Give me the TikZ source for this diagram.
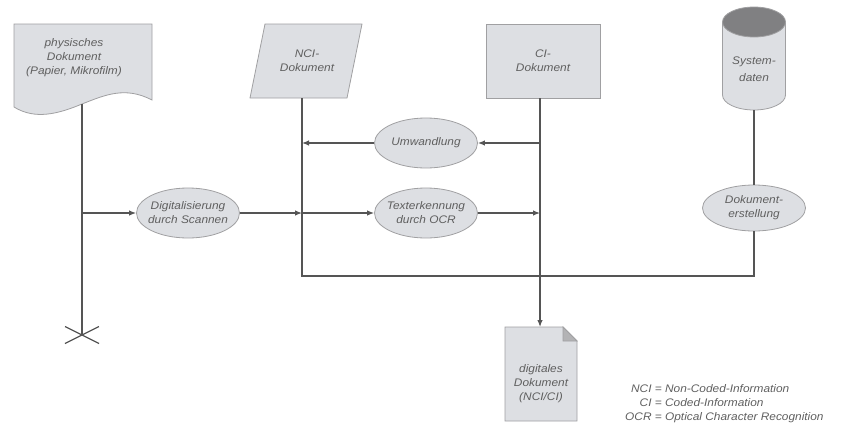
\documentclass[tikz,border=0pt]{standalone}
\usepackage{fontspec}
\newfontfamily\diafont{Liberation Sans}[FakeStretch=1.08]
\usepackage{tikz}
\usetikzlibrary{shapes.geometric, arrows.meta, positioning}
\definecolor{docfill}{RGB}{221,223,227}
\definecolor{bordergrey}{RGB}{160,160,162}
\definecolor{linegrey}{RGB}{85,85,85}
\definecolor{textgrey}{RGB}{95,95,95}
\definecolor{capgrey}{RGB}{128,128,130}
\tikzset{
  docshape/.style={draw=bordergrey, fill=docfill, line width=0.8pt},
  doctext/.style={font=\diafont\itshape\fontsize{11}{14}\selectfont, text=textgrey, align=center, inner sep=1pt},
  procell/.style={ellipse, docshape, doctext, minimum width=103pt, minimum height=50pt, inner xsep=-5pt, inner ysep=1pt},
  flowline/.style={draw=linegrey, line width=1.2pt},
  flowarrow/.style={flowline, -{Latex[length=7pt,width=5.5pt]}}
}

\begin{document}
\begin{tikzpicture}[x=1pt, y=-1pt]
        \useasboundingbox (0,0) rectangle (842,423);
        % Papierdokument mit Wellenkante
        \draw[docshape] (14,24) -- (152,24) -- (152,100)
            .. controls (125,86) and (105,95) .. (82,104)
            .. controls (58,114) and (35,120) .. (14,107) -- cycle;
        \node[doctext] (phys) at (74,58) {physisches\\Dokument\\(Papier, Mikrofilm)};
        \coordinate (physbot) at (82,104);
        \coordinate (xmark) at (82,335);
        % NCI-Dokument (Parallelogramm)
        \draw[docshape] (250,98) -- (265,24) -- (362,24) -- (347,98) -- cycle;
        \node[doctext] (nci) at (307,61) {NCI-\\Dokument};
        \coordinate (ncibot) at (302,98);
        % CI-Dokument
        \node[rectangle, docshape, doctext, minimum width=114pt, minimum height=74pt] (ci) at (543,61) {CI-\\Dokument};
        \coordinate (cibot) at (540,98);
        % Systemdaten (Zylinder)
        \draw[docshape] (722.5,22) -- (722.5,95) arc (180:0:31.5 and 15) -- (785.5,22) -- cycle;
        \draw[docshape, fill=capgrey] (754,22) ellipse (31.5 and 15);
        \node[doctext, font=\diafont\itshape\fontsize{11}{17}\selectfont] (sys) at (754,69) {System-\\daten};
        \coordinate (sysbot) at (754,110);
        % Prozesse
        \node[procell] (digi) at (188,213) {Digitalisierung\\durch Scannen};
        \node[procell] (umw) at (426,143) {Umwandlung};
        \node[procell] (texter) at (426,213) {Texterkennung\\durch OCR};
        \node[procell, minimum height=46pt] (doku) at (754,208) {Dokument-\\erstellung};
        % digitales Dokument mit Eselsohr
        \draw[docshape] (505,327) -- (563,327) -- (577,341) -- (577,421) -- (505,421) -- cycle;
        \draw[docshape, fill=bordergrey!80] (563,327) -- (563,341) -- (577,341) -- cycle;
        \node[doctext] (digdoc) at (541,384) {digitales\\Dokument\\(NCI/CI)};
        \coordinate (digtop) at (540,327);
        % Knotenpunkte
        \coordinate (j1) at (82,213);
        \coordinate (j2) at (302,213);
        \coordinate (j3) at (540,213);
        \coordinate (j4) at (302,143);
        \coordinate (j5) at (540,143);
        \coordinate (ncicorner) at (302,276);
        \coordinate (dokucorner) at (754,276);
        % Verbindungen
        \draw[flowline] (physbot) -- (xmark);
        \draw[flowline] (xmark) ++(-17,-8.5) -- ++(34,17);
        \draw[flowline] (xmark) ++(-17,8.5) -- ++(34,-17);
        \draw[flowarrow] (j1) -- (digi.west);
        \draw[flowarrow] (digi.east) -- (j2);
        \draw[flowarrow] (j2) -- (texter.west);
        \draw[flowarrow] (texter.east) -- (j3);
        \draw[flowarrow] (j5) -- (umw.east);
        \draw[flowarrow] (umw.west) -- (j4);
        \draw[flowline] (ncibot) -- (ncicorner) -- (dokucorner) -- (doku.south);
        \draw[flowline] (sysbot) -- (doku.north);
        \draw[flowarrow] (cibot) -- (digtop);
        % Legende
        \node[doctext, font=\diafont\itshape\fontsize{11}{14}\selectfont, anchor=north west, inner sep=0pt] (legend) at (625,382)
            {\begin{tabular}{@{}r@{ = }l@{}}NCI & Non-Coded-Information\\CI & Coded-Information\\OCR & Optical Character Recognition\end{tabular}};
    \end{tikzpicture}
\end{document}
